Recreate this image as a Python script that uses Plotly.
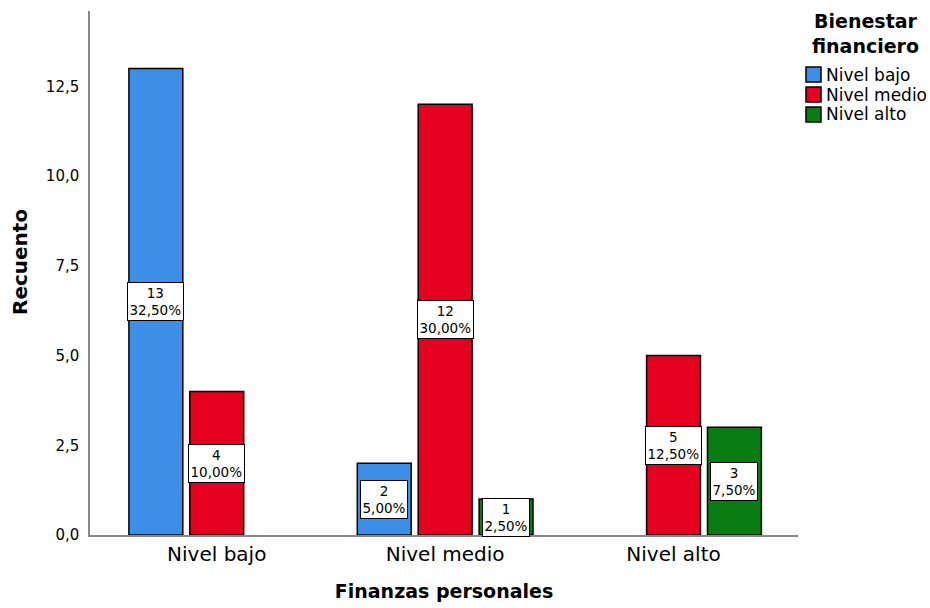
import plotly.graph_objects as go

# Finanzas personales (x categories) vs Bienestar financiero (series)
categories = ["Nivel bajo", "Nivel medio", "Nivel alto"]
series_names = ["Nivel bajo", "Nivel medio", "Nivel alto"]
counts = {
    "Nivel bajo": [13, 2, 0],
    "Nivel medio": [4, 12, 5],
    "Nivel alto": [0, 1, 3],
}
percents = {
    "Nivel bajo": ["32,50%", "5,00%", None],
    "Nivel medio": ["10,00%", "30,00%", "12,50%"],
    "Nivel alto": [None, "2,50%", "7,50%"],
}
colors = {"Nivel bajo": "#3d8ee6", "Nivel medio": "#e6001f", "Nivel alto": "#0a7d12"}
y_ticks = [0, 2.5, 5, 7.5, 10, 12.5]
y_ticktext = ["0,0", "2,5", "5,0", "7,5", "10,0", "12,5"]
legend_title = "Bienestar<br>financiero"
x_title = "Finanzas personales"
y_title = "Recuento"

FONT = "DejaVu Sans"
BARGAP = 0.2
BARGROUPGAP = 0.115

fig = go.Figure()
xpos = list(range(len(categories)))
for name in series_names:
    # empty cells are left out rather than drawn as flat outlines
    yvals = [v if v > 0 else None for v in counts[name]]
    fig.add_trace(go.Bar(
        x=xpos, y=yvals, name=name,
        marker=dict(color=colors[name], line=dict(color="black", width=1.5)),
        hoverinfo="skip", showlegend=False,
    ))

# value / percentage boxes at the middle of each non-empty bar
slot = (1 - BARGAP) / len(series_names)
annotations = []
shapes = []
for si, name in enumerate(series_names):
    for ci, v in enumerate(counts[name]):
        if v <= 0:
            continue
        xc = ci + (si - (len(series_names) - 1) / 2) * slot
        annotations.append(dict(
            x=xc, y=v / 2, xref="x", yref="y",
            text=f"{v}<br>{percents[name][ci]}",
            showarrow=False, font=dict(family=FONT, size=13.5, color="black"),
            bgcolor="white", bordercolor="black", borderwidth=1, borderpad=1.5,
            align="center",
        ))

# legend block and y title, placed with pixel-like paper coordinates
W, H = 930, 608
ML, MR, MT, MB = 90, 132, 11, 73
pw, ph = W - ML - MR, H - MT - MB


def px(x):
    return (x - ML) / pw


def py(y):
    return 1 - (y - MT) / ph


annotations.append(dict(
    x=px(20), y=py(262), xref="paper", yref="paper", xanchor="center", yanchor="middle",
    text=f"<b>{y_title}</b>", showarrow=False, textangle=-90,
    font=dict(family=FONT, size=20, color="black"),
))
annotations.append(dict(
    x=px(866), y=py(34), xref="paper", yref="paper", xanchor="center", yanchor="middle",
    text=f"<b>{legend_title}</b>", showarrow=False, align="center",
    font=dict(family=FONT, size=19, color="black"),
))
for i, name in enumerate(series_names):
    top = 67 + i * 20
    shapes.append(dict(
        type="rect", xref="paper", yref="paper",
        x0=px(806), x1=px(821), y0=py(top), y1=py(top + 15),
        fillcolor=colors[name], line=dict(color="black", width=1.5),
    ))
    annotations.append(dict(
        x=px(824), y=py(top + 7.5), xref="paper", yref="paper",
        xanchor="left", yanchor="middle", text=name, showarrow=False,
        font=dict(family=FONT, size=17, color="black"),
    ))

fig.update_layout(
    width=W, height=H,
    margin=dict(l=ML, r=MR, t=MT, b=MB, autoexpand=False),
    paper_bgcolor="white", plot_bgcolor="white",
    barmode="group", bargap=BARGAP, bargroupgap=BARGROUPGAP,
    font=dict(family=FONT, color="black"),
    annotations=annotations, shapes=shapes,
    showlegend=False,
)
fig.update_xaxes(
    range=[-0.555, 2.545], tickvals=xpos, ticktext=categories,
    tickfont=dict(family=FONT, size=20, color="black"),
    showline=True, linecolor="#888888", linewidth=1.5, showgrid=False,
    zeroline=False, ticks="", ticklabelstandoff=0,
    title=dict(text=f"<b>{x_title}</b>", font=dict(family=FONT, size=19, color="black"),
               standoff=20),
)
fig.update_yaxes(
    range=[0, 14.6], tickvals=y_ticks, ticktext=y_ticktext,
    tickfont=dict(family=FONT, size=15, color="black"),
    showline=True, linecolor="#888888", linewidth=1.5, showgrid=False,
    zeroline=False, ticks="", ticklabelstandoff=6,
)

fig.write_html("out.html")
